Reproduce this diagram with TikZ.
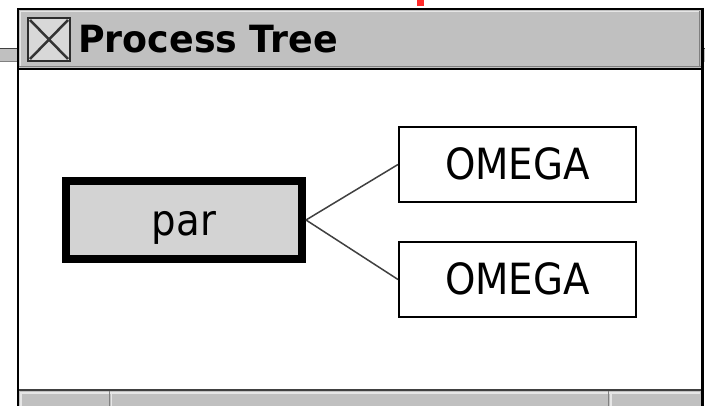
\documentclass[tikz,border=0pt]{standalone}
\usepackage{fontspec}
\newfontfamily\nodefont[FakeStretch=0.9]{DejaVu Sans}
\newfontfamily\titlefont[FakeStretch=0.97]{DejaVu Sans}
\definecolor{barGray}{HTML}{C0C0C0}
\definecolor{parGray}{HTML}{D3D3D3}
\definecolor{boxGray}{HTML}{D8D8D8}
\definecolor{edgeGray}{HTML}{404040}
\definecolor{hiGray}{HTML}{E6E6E6}
\definecolor{shGray}{HTML}{808080}
\definecolor{markRed}{HTML}{FF2A2A}
\tikzset{
  treebox/.style={draw=black, rectangle, inner sep=0pt, text height=31pt, text depth=0pt,
    font=\nodefont\fontsize{43}{43}\selectfont, text=black},
  parbox/.style={treebox, line width=8pt, fill=parGray, minimum width=236pt, minimum height=78pt},
  leafbox/.style={treebox, line width=2pt, fill=white, minimum width=237pt, minimum height=75pt},
  conn/.style={draw=edgeGray, line width=1.5pt},
}
\begin{document}
\begin{tikzpicture}[x=1pt,y=-1pt]
\useasboundingbox (0,0) rectangle (705,406);
\fill[white] (0,0) rectangle (705,406);
% red mark at top
\fill[markRed] (417,0) rectangle (424,6);
% stubs of a window behind
\fill[barGray] (0,48) rectangle (18,62);
\draw[edgeGray, line width=1.5pt] (0,48.75) -- (18,48.75);
\draw[shGray, line width=1pt] (0,61.5) -- (18,61.5);
\fill[barGray] (703,48) rectangle (705,62);
\draw[edgeGray, line width=1.5pt] (703,48.75) -- (705,48.75);
% title bar
\fill[barGray] (18,8) rectangle (703,70);
\draw[hiGray, line width=1.5pt] (20,11.5) -- (700,11.5);
\draw[hiGray, line width=1.5pt] (20.5,11) -- (20.5,66);
\draw[shGray, line width=1.5pt] (19,66.5) -- (701,66.5);
\draw[shGray, line width=1.5pt] (699.5,11) -- (699.5,66);
\draw[black, line width=2pt] (18,69) -- (703,69);
% content area
\fill[white] (19,70) rectangle (701,389);
% bottom bar
\fill[barGray] (19,391) rectangle (701,406);
\draw[edgeGray, line width=2pt] (18,390) -- (703,390);
\draw[hiGray, line width=1.5pt] (20,393) -- (700,393);
\draw[hiGray, line width=1.5pt] (21,392) -- (21,406);
\draw[shGray, line width=1.5pt] (109.3,391) -- (109.3,406);
\draw[hiGray, line width=1.5pt] (111.7,392) -- (111.7,406);
\draw[shGray, line width=1.5pt] (608.7,391) -- (608.7,406);
\draw[hiGray, line width=1.5pt] (611,392) -- (611,406);
% window frame
\draw[black, line width=2pt] (18,406) -- (18,9) -- (702.5,9);
\draw[black, line width=3pt] (702.5,8) -- (702.5,406);
% close box
\draw[fill=boxGray, draw=edgeGray!70!black, line width=2pt] (28,18) rectangle (70,61);
\draw[edgeGray!80!black, line width=2.5pt] (30,20) -- (68,59) (30,59) -- (68,20);
% title
\node[anchor=base west, inner sep=0pt, text=black] (title) at (78,53)
  {\titlefont\bfseries\fontsize{37.5}{37.5}\selectfont Process Tree};
% tree
\node[parbox] (par) at (184,220) {par};
\node[leafbox] (o1) at (517.5,164.5) {OMEGA};
\node[leafbox] (o2) at (517.5,279.5) {OMEGA};
\draw[conn] (par.east) -- (o1.west);
\draw[conn] (par.east) -- (o2.west);
\end{tikzpicture}
\end{document}
